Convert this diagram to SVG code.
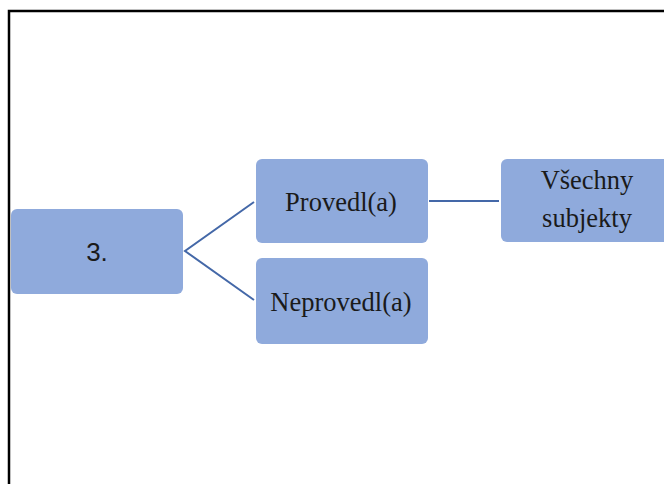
<svg xmlns="http://www.w3.org/2000/svg" width="664" height="484" viewBox="0 0 664 484">
<style>
.box{fill:#8FAADC;}
.t{font-family:"Liberation Serif","Times New Roman",serif;font-size:26.5px;fill:#1a1a1a;text-anchor:middle;}
.s{font-family:"Liberation Sans",Arial,sans-serif;font-size:26px;fill:#1a1a1a;text-anchor:middle;}
.c{stroke:#4468A8;stroke-width:2;fill:none;}
.frame{stroke:#000;stroke-width:2.5;fill:none;}
</style>
<rect width="664" height="484" fill="#fff"/>
<path class="frame" d="M9,484 V11 H664"/>
<g id="connectors">
<polyline class="c" points="254,202 185,251 254,300"/>
<line class="c" x1="429" y1="201" x2="499" y2="201"/>
</g>
<g id="n3">
<rect class="box" x="11" y="209" width="172" height="85" rx="6"/>
<text class="s" x="97" y="261">3.</text>
</g>
<g id="provedl">
<rect class="box" x="256" y="159" width="172" height="84" rx="6"/>
<text class="t" x="341" y="211">Provedl(a)</text>
</g>
<g id="neprovedl">
<rect class="box" x="256" y="258" width="172" height="86" rx="6"/>
<text class="t" x="341" y="311">Neprovedl(a)</text>
</g>
<g id="vsechny">
<rect class="box" x="501" y="159" width="172" height="83" rx="6"/>
<text class="t" x="587" y="189">Všechny</text>
<text class="t" x="587" y="227">subjekty</text>
</g>
</svg>
